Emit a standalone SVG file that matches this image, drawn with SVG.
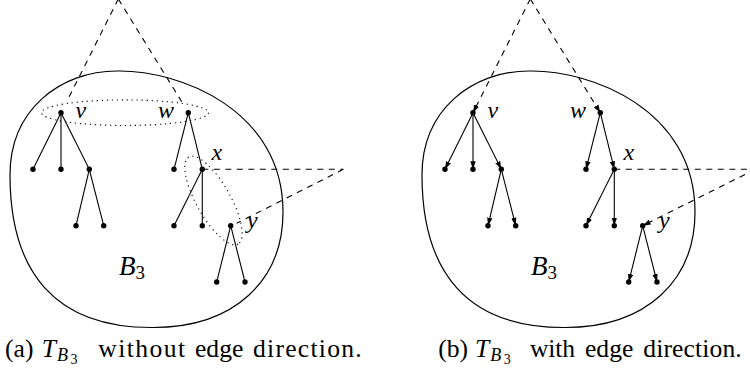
<svg xmlns="http://www.w3.org/2000/svg" width="750" height="371" viewBox="0 0 750 371">
<style>
.blob{fill:none;stroke:#000;stroke-width:1.2}
.e{fill:none;stroke:#000;stroke-width:1.1}
.d{stroke-dasharray:6 5.5}
.dot{fill:none;stroke:#000;stroke-width:1.1;stroke-dasharray:1.2 3.8}
.n{fill:#000}
.lbl{font-style:italic;font-size:24px;fill:#000}
.big{font-style:italic;font-size:27px;fill:#000}
.cap{font-size:25.6px;fill:#000}
.it{font-style:italic}
.arr{marker-end:url(#ah)}
</style>
<defs>
<marker id="ah" markerUnits="userSpaceOnUse" viewBox="0 0 8 6" markerWidth="8" markerHeight="6" refX="8" refY="3" orient="auto">
<path d="M0,0.3 L8,3 L0,5.7 Z" fill="#000"/>
</marker>
</defs>

<!-- Panel (a) -->
<g id="panel-a">
<g id="a-B3">
<path class="blob" d="M117,71 C180,70 283,110 283,212 C283,280 235,327.5 153,327.5 C55,328 10,272 10,175 C10,110 60,71 117,71 Z"/>
<text class="big" font-family="'Liberation Serif','DejaVu Serif','Times New Roman',serif" x="119" y="275">B<tspan font-style="normal" font-size="19" dy="4">3</tspan></text>
</g>
<g id="a-groups">
<ellipse class="dot" cx="125" cy="112.7" rx="83.5" ry="12.8"/>
<ellipse class="dot" cx="213.5" cy="200.5" rx="50" ry="17" transform="rotate(60.6 213.5 200.5)"/>
</g>
<g id="a-connectors">
<line class="e d" x1="118.3" y1="-1" x2="66.7" y2="101.7"/>
<line class="e d" x1="118.3" y1="-1" x2="181.7" y2="101.7"/>
<line class="e d" x1="202.3" y1="169.3" x2="343.3" y2="169.3"/>
<line class="e d" x1="343.3" y1="169.3" x2="236.7" y2="223.3"/>
<line class="e" x1="61" y1="112.7" x2="33" y2="169.3"/>
<line class="e" x1="61" y1="112.7" x2="61" y2="169.3"/>
<line class="e" x1="61" y1="112.7" x2="89.3" y2="169.3"/>
<line class="e" x1="89.3" y1="169.3" x2="76" y2="225.7"/>
<line class="e" x1="89.3" y1="169.3" x2="103.7" y2="225.7"/>
<line class="e" x1="188.3" y1="112.7" x2="174" y2="169.3"/>
<line class="e" x1="188.3" y1="112.7" x2="202.3" y2="169.3"/>
<line class="e" x1="202.3" y1="169.3" x2="174" y2="225.7"/>
<line class="e" x1="202.3" y1="169.3" x2="202.3" y2="225.7"/>
<line class="e" x1="230.7" y1="225.7" x2="216.7" y2="282"/>
<line class="e" x1="230.7" y1="225.7" x2="245" y2="282"/>
</g>
<g id="a-v"><circle class="n" cx="61" cy="112.7" r="2.7"/><text class="lbl" font-family="'Liberation Serif','DejaVu Serif','Times New Roman',serif" x="75.5" y="118.3">v</text></g>
<g id="a-v1"><circle class="n" cx="33" cy="169.3" r="2.7"/></g>
<g id="a-v2"><circle class="n" cx="61" cy="169.3" r="2.7"/></g>
<g id="a-v3"><circle class="n" cx="89.3" cy="169.3" r="2.7"/></g>
<g id="a-v31"><circle class="n" cx="76" cy="225.7" r="2.7"/></g>
<g id="a-v32"><circle class="n" cx="103.7" cy="225.7" r="2.7"/></g>
<g id="a-w"><circle class="n" cx="188.3" cy="112.7" r="2.7"/><text class="lbl" font-family="'Liberation Serif','DejaVu Serif','Times New Roman',serif" x="158" y="118.3">w</text></g>
<g id="a-w1"><circle class="n" cx="174" cy="169.3" r="2.7"/></g>
<g id="a-x"><circle class="n" cx="202.3" cy="169.3" r="2.7"/><text class="lbl" font-family="'Liberation Serif','DejaVu Serif','Times New Roman',serif" x="211.5" y="160">x</text></g>
<g id="a-x1"><circle class="n" cx="174" cy="225.7" r="2.7"/></g>
<g id="a-x2"><circle class="n" cx="202.3" cy="225.7" r="2.7"/></g>
<g id="a-y"><circle class="n" cx="230.7" cy="225.7" r="2.7"/><text class="lbl" font-family="'Liberation Serif','DejaVu Serif','Times New Roman',serif" x="247" y="227.5">y</text></g>
<g id="a-y1"><circle class="n" cx="216.7" cy="282" r="2.7"/></g>
<g id="a-y2"><circle class="n" cx="245" cy="282" r="2.7"/></g>
</g>

<!-- Panel (b) -->
<g id="panel-b" transform="translate(412,0)">
<g id="b-B3">
<path class="blob" d="M117,71 C180,70 283,110 283,212 C283,280 235,327.5 153,327.5 C55,328 10,272 10,175 C10,110 60,71 117,71 Z"/>
<text class="big" font-family="'Liberation Serif','DejaVu Serif','Times New Roman',serif" x="119" y="275">B<tspan font-style="normal" font-size="19" dy="4">3</tspan></text>
</g>
<g id="b-connectors">
<line class="e d arr" x1="118.3" y1="-1" x2="61" y2="112.7"/>
<line class="e d arr" x1="118.3" y1="-1" x2="188.3" y2="112.7"/>
<line class="e d" x1="202.3" y1="169.3" x2="343.3" y2="169.3"/>
<line class="e d arr" x1="343.3" y1="169.3" x2="230.7" y2="225.7"/>
<line class="e arr" x1="61" y1="112.7" x2="33" y2="169.3"/>
<line class="e arr" x1="61" y1="112.7" x2="61" y2="169.3"/>
<line class="e arr" x1="61" y1="112.7" x2="89.3" y2="169.3"/>
<line class="e arr" x1="89.3" y1="169.3" x2="76" y2="225.7"/>
<line class="e arr" x1="89.3" y1="169.3" x2="103.7" y2="225.7"/>
<line class="e arr" x1="188.3" y1="112.7" x2="174" y2="169.3"/>
<line class="e arr" x1="188.3" y1="112.7" x2="202.3" y2="169.3"/>
<line class="e arr" x1="202.3" y1="169.3" x2="174" y2="225.7"/>
<line class="e arr" x1="202.3" y1="169.3" x2="202.3" y2="225.7"/>
<line class="e arr" x1="230.7" y1="225.7" x2="216.7" y2="282"/>
<line class="e arr" x1="230.7" y1="225.7" x2="245" y2="282"/>
</g>
<g id="b-v"><circle class="n" cx="61" cy="112.7" r="2.7"/><text class="lbl" font-family="'Liberation Serif','DejaVu Serif','Times New Roman',serif" x="75.5" y="118.3">v</text></g>
<g id="b-v1"><circle class="n" cx="33" cy="169.3" r="2.7"/></g>
<g id="b-v2"><circle class="n" cx="61" cy="169.3" r="2.7"/></g>
<g id="b-v3"><circle class="n" cx="89.3" cy="169.3" r="2.7"/></g>
<g id="b-v31"><circle class="n" cx="76" cy="225.7" r="2.7"/></g>
<g id="b-v32"><circle class="n" cx="103.7" cy="225.7" r="2.7"/></g>
<g id="b-w"><circle class="n" cx="188.3" cy="112.7" r="2.7"/><text class="lbl" font-family="'Liberation Serif','DejaVu Serif','Times New Roman',serif" x="158" y="118.3">w</text></g>
<g id="b-w1"><circle class="n" cx="174" cy="169.3" r="2.7"/></g>
<g id="b-x"><circle class="n" cx="202.3" cy="169.3" r="2.7"/><text class="lbl" font-family="'Liberation Serif','DejaVu Serif','Times New Roman',serif" x="211.5" y="160">x</text></g>
<g id="b-x1"><circle class="n" cx="174" cy="225.7" r="2.7"/></g>
<g id="b-x2"><circle class="n" cx="202.3" cy="225.7" r="2.7"/></g>
<g id="b-y"><circle class="n" cx="230.7" cy="225.7" r="2.7"/><text class="lbl" font-family="'Liberation Serif','DejaVu Serif','Times New Roman',serif" x="247" y="227.5">y</text></g>
<g id="b-y1"><circle class="n" cx="216.7" cy="282" r="2.7"/></g>
<g id="b-y2"><circle class="n" cx="245" cy="282" r="2.7"/></g>
</g>

<!-- Captions -->
<text class="cap" font-family="'Liberation Serif','DejaVu Serif','Times New Roman',serif" y="356.7"><tspan x="5">(a)</tspan> <tspan class="it" x="41.7">T</tspan><tspan class="it" x="57" y="361" font-size="18">B</tspan><tspan x="70.5" y="364.3" font-size="14">3</tspan> <tspan x="98.3" y="356.7" textLength="86.7" lengthAdjust="spacing">without</tspan> <tspan x="195" textLength="48.3" lengthAdjust="spacing">edge</tspan> <tspan x="253" textLength="108.7" lengthAdjust="spacing">direction.</tspan></text>
<text class="cap" font-family="'Liberation Serif','DejaVu Serif','Times New Roman',serif" y="356.7"><tspan x="438.3">(b)</tspan> <tspan class="it" x="475">T</tspan><tspan class="it" x="490.3" y="361" font-size="18">B</tspan><tspan x="503.8" y="364.3" font-size="14">3</tspan> <tspan x="530" y="356.7" textLength="45" lengthAdjust="spacing">with</tspan> <tspan x="585" textLength="48.3" lengthAdjust="spacing">edge</tspan> <tspan x="643.3" textLength="98.4" lengthAdjust="spacing">direction.</tspan></text>
</svg>
